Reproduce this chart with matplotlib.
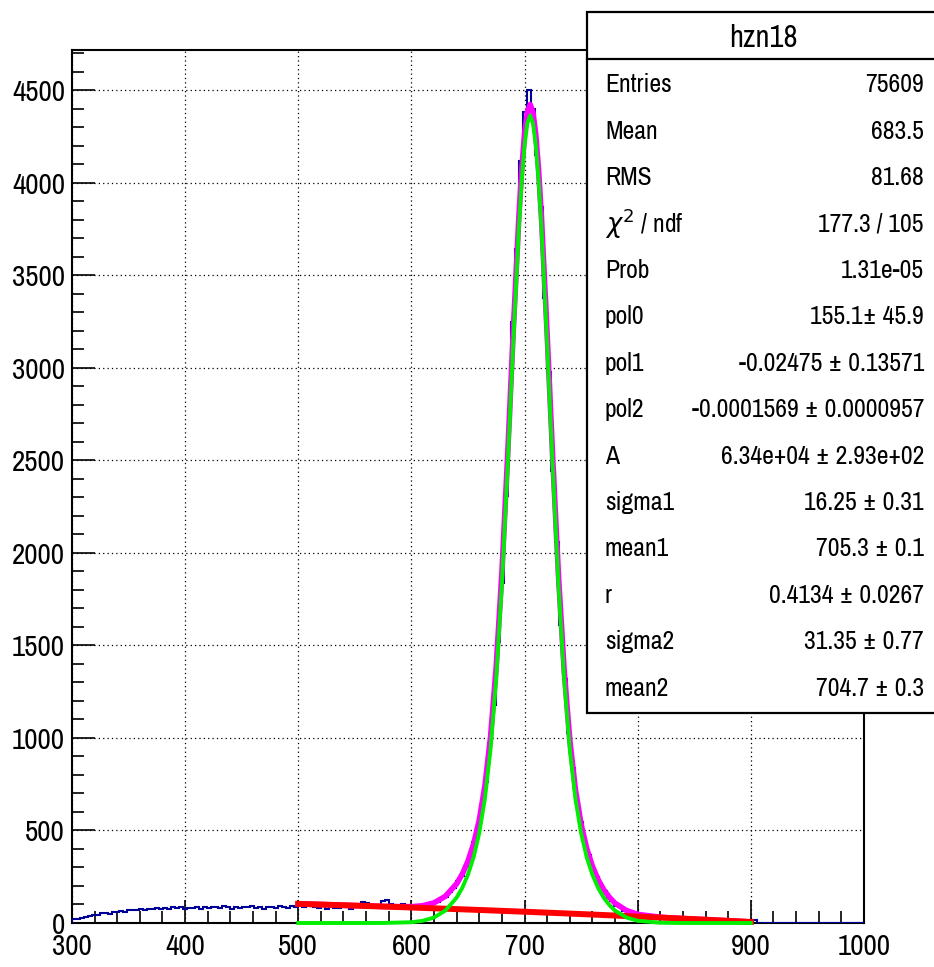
import matplotlib
matplotlib.use('Agg')
import matplotlib.pyplot as plt
import numpy as np

plt.rcParams['font.family'] = ['Archivo Narrow', 'Roboto Condensed', 'Liberation Sans', 'DejaVu Sans']
plt.rcParams['mathtext.fontset'] = 'dejavusans'

# histogram counts, 200 bins of 3.5 from 300 to 1000
counts_low = [22, 24, 28, 30, 40, 42, 45, 52, 55, 50, 60, 62, 65, 62, 70, 68, 72, 75,
              70, 78, 76, 80, 74, 82, 78, 84, 80, 86, 76, 82, 80, 85, 78, 88, 82, 84,
              86, 80, 90, 84, 78, 86, 82, 88, 84, 90, 80, 86, 78, 84, 88, 82, 90, 84,
              80, 92, 86]
counts_mid = [95, 88, 100, 92, 85, 80, 98, 78, 90, 82, 80, 95, 88, 78, 92, 100, 112, 108,
              95, 90, 98, 120, 125, 105, 96, 92, 100, 98, 95]
counts_peak = [90, 86, 95, 92, 104, 110, 116, 135, 142, 170, 188, 225, 252, 310,
               352, 436, 508, 640, 762, 975, 1180, 1520, 1840, 2310, 2720, 3250, 3640, 4120, 4380, 4500,
               4400, 4150, 3870, 3380, 2980, 2440, 2060, 1610, 1320, 1025, 840, 655, 545, 430, 368,
               292, 250, 198, 172, 136, 118, 92, 84, 64, 60, 46, 45, 36, 38, 30, 32, 26, 28, 22, 25,
               20, 24, 18, 22, 16, 20, 15, 18, 12, 16, 14, 10, 13, 9, 11, 7, 9, 6, 5, 4, 2]
counts_tail = [15, 2, 1, 0, 2, 1, 1, 0, 2, 1, 0, 1, 2, 0, 1, 1, 0, 2, 1, 0,
               1, 1, 0, 0, 1, 2, 0, 1]
counts = counts_low + counts_mid + counts_peak + counts_tail

# fit curves
fit_x = [500, 525, 550, 575, 600, 610, 620, 630, 640, 645, 650, 655, 660, 665, 670, 675,
         680, 685, 690, 695, 697.5, 700, 702.5, 705, 707.5, 710, 712.5, 715, 720, 725, 730,
         735, 740, 745, 750, 755, 760, 765, 770, 775, 780, 790, 800, 820, 840, 860, 880, 900]
fit_bkg = [103.5, 98.9, 94.0, 89.0, 83.8, 81.6, 79.4, 77.2, 75.0, 73.9, 72.7, 71.6, 70.4,
           69.3, 68.1, 66.9, 65.7, 64.5, 63.3, 62.1, 61.5, 60.9, 60.3, 59.8, 59.2, 58.4, 57.8,
           57.2, 55.9, 54.7, 53.4, 52.2, 50.9, 49.6, 48.3, 47.0, 45.7, 44.4, 43.0, 41.7, 40.3,
           37.6, 34.9, 29.3, 23.6, 17.8, 11.8, 5.7]
fit_sig = [0, 0, 0, 0.2, 4.3, 11.8, 29.6, 66.8, 137, 190, 261, 355, 486, 672, 940, 1320,
           1828, 2451, 3128, 3754, 4007, 4201, 4322, 4363, 4322, 4201, 4007, 3754, 3128, 2451,
           1828, 1320, 940, 672, 486, 355, 261, 190, 137, 97, 67, 30, 12, 1.4, 0.1, 0, 0, 0]
fit_tot = [103.5, 98.9, 94.0, 89.2, 88.1, 93.4, 109.0, 144.0, 212, 264, 334, 427, 556, 741,
           1008, 1387, 1894, 2516, 3191, 3816, 4069, 4262, 4382, 4423, 4381, 4259, 4065, 3811,
           3184, 2506, 1881, 1372, 991, 722, 534, 402, 307, 235, 180, 139, 107, 68, 47, 31,
           24, 18, 12, 5.7]

# stats box
stat_title = 'hzn18'
stat_names = ['Entries', 'Mean', 'RMS', r'$\chi^{2}$ / ndf', 'Prob', 'pol0', 'pol1', 'pol2',
              'A', 'sigma1', 'mean1', 'r', 'sigma2', 'mean2']
stat_values = ['75609', '683.5', '81.68', '177.3 / 105', '1.31e-05', '155.1± 45.9',
               '-0.02475 ± 0.13571', '-0.0001569 ± 0.0000957',
               '6.34e+04 ± 2.93e+02', '16.25 ± 0.31', '705.3 ± 0.1',
               '0.4134 ± 0.0267', '31.35 ± 0.77', '704.7 ± 0.3']

fig = plt.figure(figsize=(9.34, 9.67), dpi=100)
ax = fig.add_axes([0.077, 0.0455, 0.848, 0.9025])

edges = np.linspace(300, 1000, len(counts) + 1)
ax.stairs(counts, edges, color='#000099', lw=1.5, zorder=3)

ax.plot(fit_x, fit_tot, color='#ff00ff', lw=4.0, zorder=4, clip_on=False)
ax.plot(fit_x, fit_bkg, color='#ff0000', lw=4.3, zorder=5, clip_on=False)
ax.plot(fit_x, fit_sig, color='#00ee00', lw=2.8, zorder=6, clip_on=False)

ax.set_xlim(300, 1000)
ax.set_ylim(0, 4716)
ax.set_xticks(np.arange(300, 1001, 100))
ax.set_xticks(np.arange(300, 1001, 20), minor=True)
ax.set_yticks(np.arange(0, 4501, 500))
ax.set_yticks(np.arange(0, 4701, 100), minor=True)
ax.grid(True, which='major', color='black', linestyle=(0, (1, 2.5)), lw=0.9)
ax.tick_params(which='major', direction='in', length=16.5, width=1.2, labelsize=21)
ax.tick_params(axis='y', pad=5)
ax.tick_params(axis='x', pad=7)
ax.tick_params(which='minor', direction='in', length=8.5, width=1.2)
ax.tick_params(top=False, right=False)
for s in ax.spines.values():
    s.set_linewidth(1.5)

# stats box in figure coordinates
box_l, box_r, box_t, box_b = 0.6285, 1.005, 0.9876, 0.2627
fig.patches.append(plt.Rectangle((box_l, box_b), box_r - box_l, box_t - box_b,
                                 transform=fig.transFigure, facecolor='white',
                                 edgecolor='black', lw=1.6, zorder=10))
sep_y = 1 - 59 / 967
fig.add_artist(plt.Line2D([box_l, box_r], [sep_y, sep_y], transform=fig.transFigure,
                          color='black', lw=1.6, zorder=11))
fig.text(763 / 934, 1 - 38 / 967, stat_title, ha='center', va='center', fontsize=22, zorder=12)
row_y0 = 85
row_dy = 46.4
for i, (nm, val) in enumerate(zip(stat_names, stat_values)):
    yy = 1 - (row_y0 + i * row_dy) / 967
    fig.text(605 / 934, yy, nm, ha='left', va='center', fontsize=18.5, zorder=12)
    fig.text(924 / 934, yy, val, ha='right', va='center', fontsize=18.5, zorder=12)

fig.savefig('out.png', dpi=100)
